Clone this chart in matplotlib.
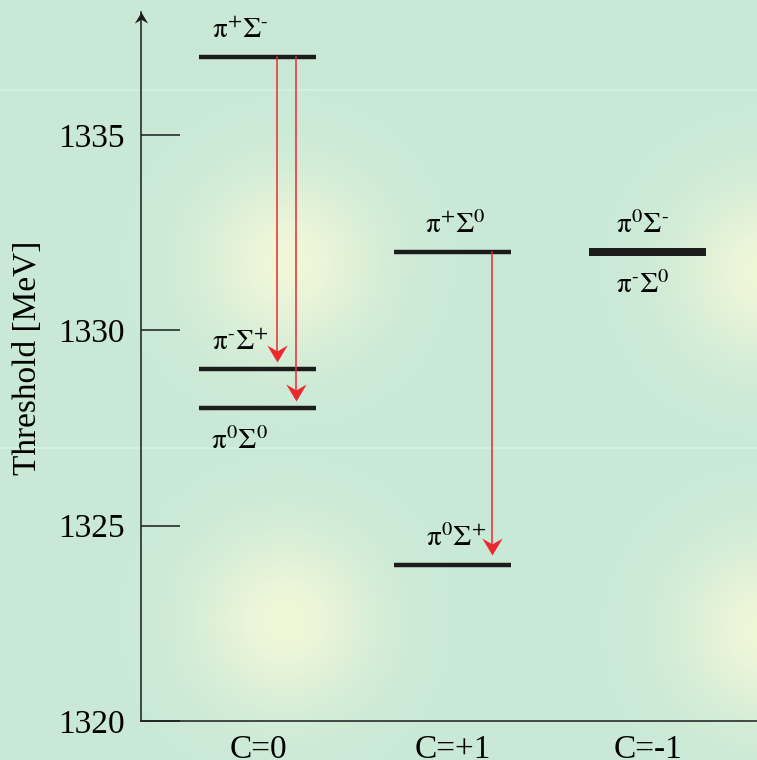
"""Pi-Sigma threshold level diagram, grouped by charge C."""

import matplotlib
matplotlib.use("Agg")
import matplotlib.pyplot as plt
import numpy as np
from matplotlib.path import Path

plt.rcParams["font.family"] = "serif"
plt.rcParams["font.serif"] = ["Liberation Serif", "DejaVu Serif"]
plt.rcParams["mathtext.fontset"] = "stix"

# --- data ------------------------------------------------------------------
categories = ["C=0", "C=+1", "C=-1"]

level_names = [
    r"$\mathrm{\pi}^{+}\Sigma^{\text{-}}$",
    r"$\mathrm{\pi}^{\text{-}}\Sigma^{+}$",
    r"$\mathrm{\pi}^{0}\Sigma^{0}$",
    r"$\mathrm{\pi}^{+}\Sigma^{0}$",
    r"$\mathrm{\pi}^{0}\Sigma^{+}$",
    r"$\mathrm{\pi}^{0}\Sigma^{\text{-}}$",
    r"$\mathrm{\pi}^{\text{-}}\Sigma^{0}$",
]
level_charge = [0, 0, 0, 1, 1, 2, 2]
level_mev = [1337.0, 1329.0, 1328.0, 1332.0, 1324.0, 1332.0, 1332.0]
label_side = ["above", "above", "below", "above", "above", "above", "below"]

# transitions (drawn inside the level of the given charge column)
arrow_charge = [0, 0, 1]
arrow_offset = [0.10, 0.195, 0.20]
arrow_from = [1337.0, 1337.0, 1332.0]
arrow_to = [1329.2, 1328.2, 1324.25]

yticks = [1320, 1325, 1330, 1335]

# --- style -----------------------------------------------------------------
BG = np.array([201, 233, 214]) / 255
GLOW = np.array([241, 247, 217]) / 255
INK = "#1c1c1c"
RED = "#ea2a2e"
LABEL_SHIFT = {0: -13, 1: 2, 2: -4}     # points, per column

W, H = 757, 760
fig = plt.figure(figsize=(W / 100, H / 100), dpi=100)

# soft green background with yellowish glows
bg = fig.add_axes([0, 0, 1, 1], zorder=-10)
yy, xx = np.mgrid[0:H, 0:W]
glow = np.zeros((H, W))
for cx, cy in [(288, 262), (285, 620), (768, 272), (768, 630)]:
    glow = np.maximum(glow, np.exp(-((xx - cx) ** 2 + (yy - cy) ** 2) / (2 * 62.0 ** 2)))
img = BG[None, None, :] + (GLOW - BG)[None, None, :] * glow[..., None]
for row in (89, 447):
    img[row:row + 2] = np.clip(img[row:row + 2] + 0.03, 0, 1)
bg.imshow(img, aspect="auto", interpolation="bilinear")
bg.set_axis_off()

ax = fig.add_axes([141 / W, 1 - 721 / H, 1 - 141 / W, (721 - 12) / H])
ax.patch.set_alpha(0)
ax.set_xlim(-0.6, 2.56)
ax.set_ylim(1320, 1320 + (721 - 12) / (586 / 15))

# levels; degenerate thresholds stack into a thicker bar
seen = {}
for c, e in zip(level_charge, level_mev):
    seen[(c, e)] = seen.get((c, e), 0) + 1
for (c, e), n in seen.items():
    ax.plot([c - 0.3, c + 0.3], [e, e], color=INK, lw=3.2 * (1 + 0.8 * (n - 1)),
            solid_capstyle="butt", zorder=3)

for name, c, e, side in zip(level_names, level_charge, level_mev, label_side):
    dy = 13.5 if side == "above" else -29.5
    ax.annotate(name, (c, e), textcoords="offset points",
                xytext=(LABEL_SHIFT[c], dy), ha="center", va="baseline",
                fontsize=21, color="black")

head_down = Path([(0, 0), (-0.6, 1), (0, 0.65), (0.6, 1), (0, 0)],
                 [Path.MOVETO, Path.LINETO, Path.LINETO, Path.LINETO, Path.CLOSEPOLY])
head_up = Path([(0, 0), (-0.6, -1), (0, -0.65), (0.6, -1), (0, 0)],
               [Path.MOVETO, Path.LINETO, Path.LINETO, Path.LINETO, Path.CLOSEPOLY])

for c, dx, e0, e1 in zip(arrow_charge, arrow_offset, arrow_from, arrow_to):
    x = c + dx
    ax.plot([x, x], [e0, e1 + 0.25], color=RED, lw=1.1, zorder=4)
    ax.plot([x], [e1], marker=head_down, ms=24.5, color=RED, mew=0, zorder=5)

# axes: left + bottom only, arrow on top of y axis
for side in ("top", "right"):
    ax.spines[side].set_visible(False)
for side in ("left", "bottom"):
    ax.spines[side].set_color(INK)
    ax.spines[side].set_linewidth(1.1)
ax.plot([0], [1], transform=ax.transAxes, marker=head_up, ms=16, color=INK,
        mew=0, clip_on=False, zorder=6)

ax.set_yticks(yticks, [str(t) for t in yticks])
ax.tick_params(axis="y", direction="in", length=28, width=1.1, color=INK,
               pad=11.5, labelsize=24)
ax.set_xticks(range(len(categories)), categories)
ax.tick_params(axis="x", length=0, pad=10, labelsize=24)

fig.text(28 / W, 1 - 358 / H, "Threshold [MeV]", rotation=90,
         ha="center", va="center", fontsize=24)

fig.savefig("out.png", dpi=100)
